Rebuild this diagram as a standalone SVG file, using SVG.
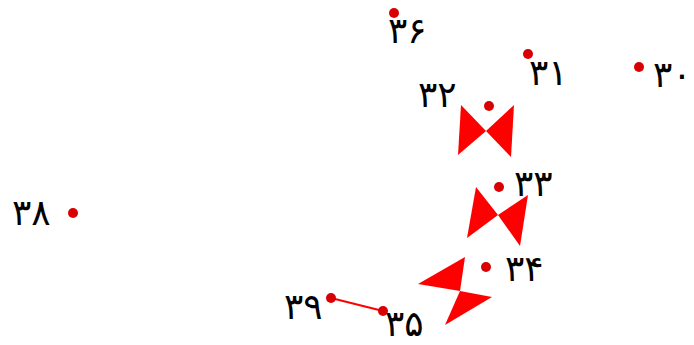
<svg xmlns="http://www.w3.org/2000/svg" width="694" height="345" viewBox="0 0 694 345">
<style>
.pt{fill:#d80000}
.bt{fill:#ff0000}
.lb{font-family:"DejaVu Sans",sans-serif;font-size:36px;fill:#000;letter-spacing:2px}
</style>
<rect width="694" height="345" fill="#fff"/>
<g id="connectors">
<line x1="331" y1="298" x2="383" y2="311" stroke="#ff0000" stroke-width="2"/>
</g>
<g id="bowtie1"><polygon class="bt" points="461,105 486,131 458,155"/><polygon class="bt" points="514,105 486,131 511,157"/></g>
<g id="bowtie2"><polygon class="bt" points="476,187 498,215 467,238"/><polygon class="bt" points="528,195 498,215 520,246"/></g>
<g id="bowtie3"><polygon class="bt" points="465,257 418,284 460,291"/><polygon class="bt" points="492,297 460,291 445,325"/></g>
<g id="n36"><circle class="pt" cx="394" cy="13" r="5"/><text class="lb" x="388" y="43">۳۶</text></g>
<g id="n31"><circle class="pt" cx="528" cy="54" r="5"/><text class="lb" x="529" y="85">۳۱</text></g>
<g id="n30"><circle class="pt" cx="639" cy="67" r="5"/><text class="lb" x="653" y="87">۳۰</text></g>
<g id="n32"><circle class="pt" cx="489" cy="106" r="5"/><text class="lb" x="418" y="107">۳۲</text></g>
<g id="n33"><circle class="pt" cx="499" cy="187" r="5"/><text class="lb" x="514" y="196">۳۳</text></g>
<g id="n34"><circle class="pt" cx="486" cy="267" r="5"/><text class="lb" x="505" y="281">۳۴</text></g>
<g id="n35"><circle class="pt" cx="383" cy="311" r="5"/><text class="lb" x="385" y="336">۳۵</text></g>
<g id="n39"><circle class="pt" cx="331" cy="298" r="5"/><text class="lb" x="284" y="319">۳۹</text></g>
<g id="n38"><circle class="pt" cx="73" cy="213" r="5"/><text class="lb" x="12" y="225">۳۸</text></g>
</svg>
